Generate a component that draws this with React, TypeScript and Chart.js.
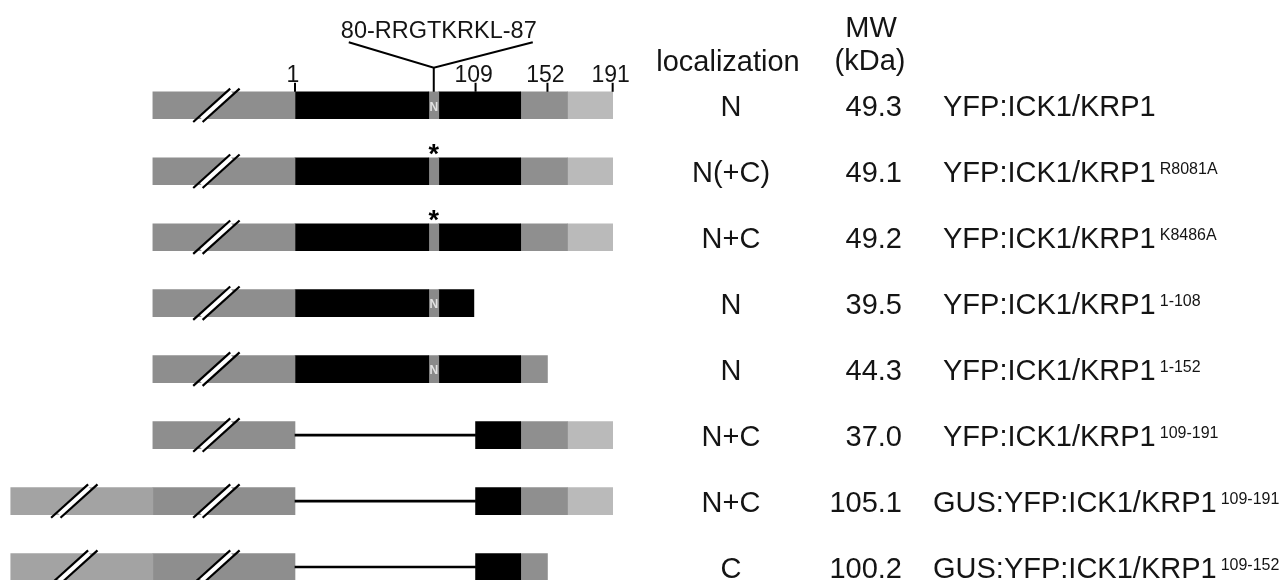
import React, { useEffect, useRef } from 'react';
import { Chart, registerables } from 'chart.js';

Chart.register(...registerables);

// ---------- data ----------
const constructNames = [
  'YFP:ICK1/KRP1',
  'YFP:ICK1/KRP1',
  'YFP:ICK1/KRP1',
  'YFP:ICK1/KRP1',
  'YFP:ICK1/KRP1',
  'YFP:ICK1/KRP1',
  'GUS:YFP:ICK1/KRP1',
  'GUS:YFP:ICK1/KRP1',
];
const constructSuperscripts = ['', 'R8081A', 'K8486A', '1-108', '1-152', '109-191', '109-191', '109-152'];
const localization = ['N', 'N(+C)', 'N+C', 'N', 'N', 'N+C', 'N+C', 'C'];
const molecularWeight = ['49.3', '49.1', '49.2', '39.5', '44.3', '37.0', '105.1', '100.2'];

type Seg = [number, number] | null;
// segments in residue coordinates (fusion partners drawn to the left of residue 1)
const gusSegment: Seg[] = [null, null, null, null, null, null, [-169, -84], [-169, -84]];
const yfpSegment: Seg[] = [[-84, 1], [-84, 1], [-84, 1], [-84, 1], [-84, 1], [-84, 1], [-84, 1], [-84, 1]];
const nTermSegment: Seg[] = [[1, 81], [1, 81], [1, 81], [1, 81], [1, 81], null, null, null];
const nlsSegment: Seg[] = [[81, 87], [81, 87], [81, 87], [81, 87], [81, 87], null, null, null];
const coreSegment: Seg[] = [[87, 136], [87, 136], [87, 136], [87, 108], [87, 136], [109, 136], [109, 136], [109, 136]];
const midSegment: Seg[] = [[136, 164], [136, 164], [136, 164], null, [136, 152], [136, 164], [136, 164], [136, 152]];
const cTermSegment: Seg[] = [[164, 191], [164, 191], [164, 191], null, null, [164, 191], [164, 191], null];
const deletionLine: Seg[] = [null, null, null, null, null, [1, 109], [1, 109], [1, 109]];

const nlsLabelShown = [true, false, false, true, true, false, false, false];
const mutationStar = [false, true, true, false, false, false, false, false];
const yfpBreak = -46;
const gusBreak = -131;
const residueTicks = [1, 109, 152, 191];
const nlsMotif = '80-RRGTKRKL-87';
const nlsCenter = 84;

const FONT = '"Liberation Sans", Arial, Helvetica, sans-serif';
const TEXT = '#141414';

const overlayPlugin = {
  id: 'overlay',
  afterDatasetsDraw(chart: any) {
    const ctx = chart.ctx as CanvasRenderingContext2D;
    const xs = chart.scales.x;
    const ys = chart.scales.y;
    const half = 13.5;

    const drawBreak = (cx: number, cy: number) => {
      const hy = 16.7;
      const hx = 18.5;
      ctx.save();
      ctx.strokeStyle = '#ffffff';
      ctx.lineWidth = 6.5;
      const f = half / hy;
      ctx.beginPath();
      ctx.moveTo(cx - hx * f, cy + half);
      ctx.lineTo(cx + hx * f, cy - half);
      ctx.stroke();
      ctx.strokeStyle = '#000000';
      ctx.lineWidth = 2.2;
      for (const k of [-4.7, 4.7]) {
        ctx.beginPath();
        ctx.moveTo(cx + k - hx, cy + hy);
        ctx.lineTo(cx + k + hx, cy - hy);
        ctx.stroke();
      }
      ctx.restore();
    };

    constructNames.forEach((name, i) => {
      const cy = ys.getPixelForValue(i);
      if (yfpSegment[i]) drawBreak(xs.getPixelForValue(yfpBreak), cy);
      if (gusSegment[i]) drawBreak(xs.getPixelForValue(gusBreak), cy);
      if (nlsLabelShown[i]) {
        ctx.save();
        ctx.fillStyle = '#e2e2e2';
        ctx.font = `bold 12px ${FONT}`;
        ctx.textAlign = 'center';
        ctx.textBaseline = 'middle';
        ctx.fillText('N', xs.getPixelForValue(nlsCenter), cy + 2);
        ctx.restore();
      }
      if (mutationStar[i]) {
        ctx.save();
        ctx.fillStyle = '#000';
        ctx.font = `bold 27px ${FONT}`;
        ctx.textAlign = 'center';
        ctx.textBaseline = 'alphabetic';
        ctx.fillText('*', xs.getPixelForValue(nlsCenter), cy - half + 5);
        ctx.restore();
      }

      // right-hand columns
      const base = cy + 11;
      ctx.save();
      ctx.fillStyle = TEXT;
      ctx.font = `29px ${FONT}`;
      ctx.textBaseline = 'alphabetic';
      ctx.textAlign = 'center';
      ctx.fillText(localization[i], 731, base);
      ctx.textAlign = 'right';
      ctx.fillText(molecularWeight[i], 902, base);
      ctx.textAlign = 'left';
      const nx = gusSegment[i] ? 933 : 943;
      ctx.fillText(name, nx, base);
      const w = ctx.measureText(name).width;
      if (constructSuperscripts[i]) {
        ctx.font = `16px ${FONT}`;
        ctx.fillText(constructSuperscripts[i], nx + w + 4, base - 8);
      }
      ctx.restore();
    });

    // residue ticks above the first construct
    const top0 = ys.getPixelForValue(0) - half;
    ctx.save();
    ctx.strokeStyle = '#000';
    ctx.lineWidth = 2;
    ctx.fillStyle = TEXT;
    ctx.font = `23px ${FONT}`;
    ctx.textAlign = 'center';
    ctx.textBaseline = 'alphabetic';
    residueTicks.forEach((t) => {
      const x = xs.getPixelForValue(t);
      ctx.beginPath();
      ctx.moveTo(x, top0);
      ctx.lineTo(x, top0 - 9);
      ctx.stroke();
      ctx.fillText(String(t), x - 2, top0 - 10);
    });

    // NLS motif bracket
    const ax = xs.getPixelForValue(nlsCenter);
    const apexY = top0 - 24;
    ctx.beginPath();
    ctx.moveTo(ax, top0);
    ctx.lineTo(ax, apexY);
    ctx.moveTo(ax - 85, apexY - 25.6);
    ctx.lineTo(ax, apexY);
    ctx.lineTo(ax + 99, apexY - 25.6);
    ctx.stroke();
    ctx.font = `23.5px ${FONT}`;
    ctx.fillText(nlsMotif, ax + 5, apexY - 30);

    // column headers
    ctx.font = `29px ${FONT}`;
    ctx.fillText('localization', 728, 71);
    ctx.fillText('MW', 871, 37);
    ctx.fillText('(kDa)', 870, 70);
    ctx.restore();
  },
};

export default function App() {
  const ref = useRef<HTMLCanvasElement | null>(null);

  useEffect(() => {
    if (!ref.current) return;
    const seg = (label: string, data: Seg[], color: string, thickness = 27) => ({
      label,
      data: data as any,
      backgroundColor: color,
      borderWidth: 0,
      borderSkipped: false,
      barThickness: thickness,
      grouped: false,
    });
    const chart = new Chart(ref.current, {
      type: 'bar',
      data: {
        labels: constructNames.map((n, i) => n + constructSuperscripts[i]),
        datasets: [
          seg('deleted region', deletionLine, '#000000', 2),
          seg('GUS', gusSegment, '#a3a3a3'),
          seg('YFP', yfpSegment, '#8e8e8e'),
          seg('ICK1 N-terminal', nTermSegment, '#000000'),
          seg('NLS', nlsSegment, '#8a8a8a'),
          seg('ICK1 core', coreSegment, '#000000'),
          seg('ICK1 152', midSegment, '#8f8f8f'),
          seg('ICK1 C-terminal', cTermSegment, '#bababa'),
        ] as any,
      },
      options: {
        indexAxis: 'y',
        responsive: false,
        animation: false,
        events: [],
        layout: { padding: { left: 0.73, right: 323.9, top: 72.3, bottom: 20 } },
        plugins: { legend: { display: false }, tooltip: { enabled: false } },
        scales: {
          x: { type: 'linear', min: -175, max: 400, display: false },
          y: { type: 'category', display: false, offset: true },
        },
      } as any,
      plugins: [overlayPlugin],
    });
    return () => chart.destroy();
  }, []);

  return (
    <div style={{ position: 'fixed', left: 0, top: 0, width: 1286, height: 580, overflow: 'hidden', background: '#fff' }}>
      <canvas ref={ref} width={1286} height={620} style={{ display: 'block' }} />
    </div>
  );
}
